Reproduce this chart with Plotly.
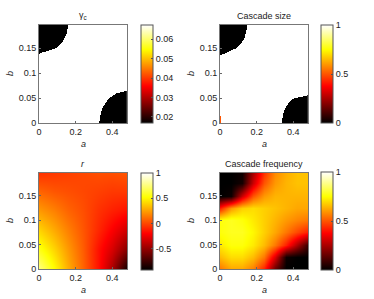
import numpy as np
import plotly.graph_objects as go

# ---------------- data ----------------
A_MAX, B_MAX = 0.48, 0.196

# Panel 1: gamma_c (two-level field, black corners)
gamma_low, gamma_high = 0.0169, 0.0673
g_tl_b = [0.1386, 0.15, 0.16, 0.17, 0.18, 0.19, 0.197]
g_tl_a = [0.0, 0.094, 0.123, 0.141, 0.151, 0.157, 0.158]
g_br_b = [0.0, 0.01, 0.02, 0.03, 0.04, 0.05, 0.06, 0.0656]
g_br_a = [0.331, 0.333, 0.338, 0.347, 0.362, 0.384, 0.422, 0.48]

# Panel 2: cascade size
size_low, size_high = 0.0, 1.0
s_tl_b = [0.135, 0.15, 0.16, 0.17, 0.18, 0.19, 0.197]
s_tl_a = [0.0, 0.091, 0.117, 0.133, 0.143, 0.148, 0.149]
s_br_b = [0.0, 0.01, 0.02, 0.03, 0.04, 0.05, 0.056]
s_br_a = [0.340, 0.342, 0.347, 0.357, 0.374, 0.404, 0.48]
sliver_b = [0.0, 0.01, 0.02]
sliver_a = [0.008, 0.004, 0.0]
sliver_val = 0.5

# Panel 3: r
r_a = [0.0, 0.08, 0.16, 0.24, 0.32, 0.40, 0.48]
r_b = [0.0, 0.04, 0.08, 0.12, 0.16, 0.196]
r_z = [
    [0.76, 0.52, 0.29, 0.08, -0.15, -0.44, -0.88],
    [0.56, 0.40, 0.23, 0.06, -0.15, -0.31, -0.54],
    [0.40, 0.28, 0.16, 0.04, -0.09, -0.21, -0.34],
    [0.23, 0.16, 0.08, 0.02, -0.06, -0.11, -0.15],
    [0.08, 0.04, 0.02, 0.00, -0.02, -0.04, -0.04],
    [-0.06, -0.04, -0.02, 0.00, 0.02, 0.02, 0.04],
]

# Panel 4: cascade frequency
f_a = [0.0, 0.06, 0.12, 0.18, 0.24, 0.30, 0.36, 0.42, 0.48]
f_b = [0.0, 0.025, 0.05, 0.075, 0.1, 0.125, 0.15, 0.175, 0.196]
f_z = [
    [0.55, 0.62, 0.62, 0.56, 0.42, 0.15, 0.00, 0.00, 0.00],
    [0.65, 0.70, 0.70, 0.65, 0.55, 0.32, 0.02, 0.00, 0.00],
    [0.72, 0.76, 0.76, 0.72, 0.65, 0.55, 0.42, 0.25, 0.08],
    [0.76, 0.78, 0.78, 0.74, 0.68, 0.62, 0.55, 0.48, 0.42],
    [0.76, 0.78, 0.76, 0.72, 0.68, 0.64, 0.60, 0.57, 0.55],
    [0.42, 0.60, 0.68, 0.70, 0.68, 0.66, 0.64, 0.62, 0.62],
    [0.00, 0.02, 0.30, 0.50, 0.60, 0.64, 0.64, 0.64, 0.64],
    [0.00, 0.00, 0.03, 0.30, 0.50, 0.60, 0.64, 0.66, 0.66],
    [0.00, 0.00, 0.02, 0.25, 0.45, 0.58, 0.63, 0.66, 0.66],
]

titles = ["γ<sub>c</sub>", "Cascade size", "<i>r</i>", "Cascade frequency"]
x_ticks = [0, 0.2, 0.4]
x_ticktext = ["0", "0.2", "0.4"]
y_ticks = [0, 0.05, 0.1, 0.15]
y_ticktext = ["0", "0.05", "0.1", "0.15"]

# ---------------- build fields ----------------
a_grid = np.linspace(0, A_MAX, 241)
b_grid = np.linspace(0, B_MAX, 197)
AA, BB = np.meshgrid(a_grid, b_grid)


def two_level(tl_b, tl_a, br_b, br_a, low, high):
    z = np.full(AA.shape, high)
    tl_edge = np.interp(BB, tl_b, tl_a, left=-1.0, right=tl_a[-1])
    z[(BB >= tl_b[0]) & (AA <= tl_edge)] = low
    br_edge = np.interp(BB, br_b, br_a, right=10.0)
    z[(BB <= br_b[-1]) & (AA >= br_edge)] = low
    return z


z1 = two_level(g_tl_b, g_tl_a, g_br_b, g_br_a, gamma_low, gamma_high)
z2 = two_level(s_tl_b, s_tl_a, s_br_b, s_br_a, size_low, size_high)
sl_edge = np.interp(BB, sliver_b, sliver_a, right=-1.0)
z2[(BB <= sliver_b[-1]) & (AA <= sl_edge)] = sliver_val

hot = [[0.0, "rgb(0,0,0)"], [0.375, "rgb(255,0,0)"],
       [0.75, "rgb(255,255,0)"], [1.0, "rgb(255,255,255)"]]

W, H = 374, 299
FONT = "Liberation Sans, Arial, sans-serif"
TXT = "#222222"


def px(x):
    return x / W


def py(y):
    return 1 - y / H


panels = [
    dict(x0=39, x1=127, y0=25, y1=123),
    dict(x0=220, x1=308, y0=25, y1=123),
    dict(x0=39, x1=127, y0=173, y1=269),
    dict(x0=220, x1=308, y0=173, y1=269),
]
cbars = [
    dict(x=141, y0=25, y1=123, vals=[0.02, 0.03, 0.04, 0.05, 0.06],
         text=["0.02", "0.03", "0.04", "0.05", "0.06"], zmin=gamma_low, zmax=gamma_high),
    dict(x=321, y0=25, y1=123, vals=[0, 0.5, 1], text=["0", "0.5", "1"], zmin=0, zmax=1),
    dict(x=141, y0=173, y1=270, vals=[-0.5, 0, 0.5, 1], text=["-0.5", "0", "0.5", "1"],
         zmin=-0.92, zmax=1.0),
    dict(x=321, y0=172, y1=270, vals=[0, 0.5, 1], text=["0", "0.5", "1"], zmin=0, zmax=1),
]

fig = go.Figure()
data_sets = [
    (a_grid, b_grid, z1, False),
    (a_grid, b_grid, z2, False),
    (r_a, r_b, r_z, "best"),
    (f_a, f_b, f_z, "best"),
]

layout = dict(
    width=W, height=H, margin=dict(l=0, r=0, t=0, b=0, autoexpand=False),
    paper_bgcolor="white", plot_bgcolor="white",
    font=dict(family=FONT, size=9, color=TXT),
    showlegend=False,
)
annotations = []
for i, ((x, y, z, sm), p, cb) in enumerate(zip(data_sets, panels, cbars)):
    k = "" if i == 0 else str(i + 1)
    fig.add_trace(go.Heatmap(
        x=x, y=y, z=z, zsmooth=sm, colorscale=hot, zmin=cb["zmin"], zmax=cb["zmax"],
        xaxis="x" + k, yaxis="y" + k, hoverinfo="skip",
        colorbar=dict(
            x=px(cb["x"]), xanchor="left", xpad=0, ypad=0,
            y=(py(cb["y0"]) + py(cb["y1"])) / 2, yanchor="middle",
            len=(cb["y1"] - cb["y0"]) / H, lenmode="fraction",
            thickness=12, thicknessmode="pixels",
            outlinecolor="#555555", outlinewidth=1,
            tickvals=cb["vals"], ticktext=cb["text"],
            ticks="inside", ticklen=2, tickcolor="#555555",
            tickfont=dict(family=FONT, size=9, color=TXT),
        ),
    ))
    layout["xaxis" + k] = dict(
        domain=[px(p["x0"]), px(p["x1"])], range=[0, A_MAX],
        anchor="y" + k, tickvals=x_ticks, ticktext=x_ticktext,
        ticks="inside", ticklen=2, tickcolor="#666666",
        showline=True, mirror=True, linecolor="#777777", linewidth=1,
        showgrid=False, zeroline=False, tickfont=dict(size=9, color=TXT),
        automargin=False,
    )
    layout["yaxis" + k] = dict(
        domain=[py(p["y1"]), py(p["y0"])], range=[0, B_MAX],
        anchor="x" + k, tickvals=y_ticks, ticktext=y_ticktext,
        ticks="inside", ticklen=2, tickcolor="#666666",
        showline=True, mirror=True, linecolor="#777777", linewidth=1,
        showgrid=False, zeroline=False, tickfont=dict(size=9, color=TXT),
        automargin=False,
    )
    cx = (p["x0"] + p["x1"]) / 2
    annotations.append(dict(text=titles[i], x=px(cx), y=py(p["y0"] - 9),
                            xref="paper", yref="paper", showarrow=False,
                            xanchor="center", yanchor="middle",
                            font=dict(size=9, color=TXT)))
    annotations.append(dict(text="<i>a</i>", x=px(cx), y=py(p["y1"] + 21),
                            xref="paper", yref="paper", showarrow=False,
                            xanchor="center", yanchor="middle",
                            font=dict(size=9, color=TXT)))
    annotations.append(dict(text="<i>b</i>", x=px(p["x0"] - 29),
                            y=py((p["y0"] + p["y1"]) / 2),
                            xref="paper", yref="paper", showarrow=False,
                            textangle=-90, xanchor="center", yanchor="middle",
                            font=dict(size=9, color=TXT)))

layout["annotations"] = annotations
fig.update_layout(**layout)
fig.write_html("out.html",
               config={"displayModeBar": False},
               post_script="document.body.style.margin='0px';"
                           "document.body.style.padding='0px';")
